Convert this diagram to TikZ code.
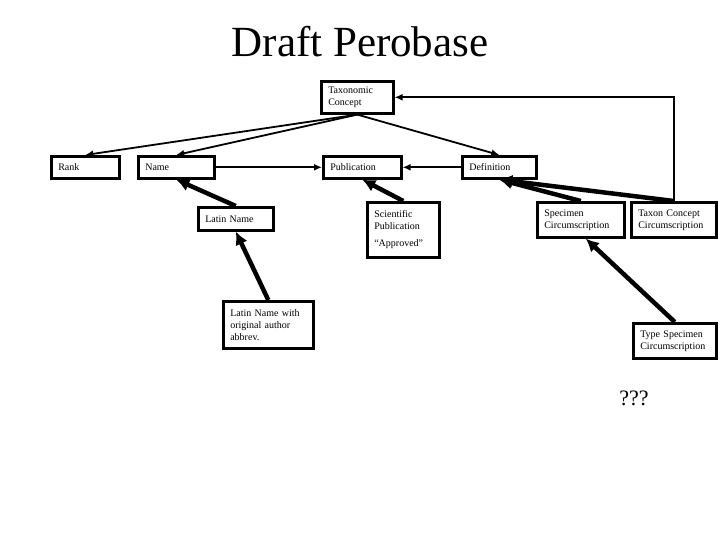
\documentclass[tikz,border=0pt]{standalone}
\usepackage{fontspec}
\setmainfont{Liberation Serif}
\usetikzlibrary{arrows.meta, positioning}

\begin{document}
\begin{tikzpicture}[x=1pt, y=-1pt,
        box/.style={rectangle, draw, line width=2.6pt, anchor=north west, inner xsep=7pt, inner ysep=2pt, align=left, font=\fontsize{10}{12}\selectfont},
        line/.style={draw, -{Latex[length=8pt, width=7pt]}, line width=1.8pt},
        heavy/.style={draw, -{Latex[length=13pt, width=13pt]}, line width=4.5pt}]

        \useasboundingbox (0,0) rectangle (720,540);

        \node [font=\fontsize{43}{46}\selectfont] (title) at (360,42) {Draft Perobase};

        % top row
        \node [box, text width=58pt, minimum height=32pt] (taxon) at (320,80) {Taxonomic\\Concept};
        \node [box, text width=54pt, minimum height=22pt] (rank) at (50,155) {Rank};
        \node [box, text width=62pt, minimum height=22pt] (name) at (137,155) {Name};
        \node [box, text width=64pt, minimum height=22pt] (pub) at (322,155) {Publication};
        \node [box, text width=60pt, minimum height=22pt] (defn) at (461,155) {Definition};

        % second row
        \node [box, text width=61pt, minimum height=23pt] (latin) at (197,206) {Latin Name};
        \node [box, text width=58pt, minimum height=55pt] (sci) at (366,201) {Scientific\\Publication\\[5pt]``Approved''};
        \node [box, text width=73pt, minimum height=35pt] (spec) at (536,201) {Specimen\\Circumscription};
        \node [box, text width=71pt, minimum height=35pt] (tcc) at (630,201) {Taxon Concept\\Circumscription};

        % lower boxes
        \node [box, text width=76pt, minimum height=47pt] (latinauth) at (222,300) {Latin Name with\\original author\\abbrev.};
        \node [box, text width=69pt, minimum height=35pt] (typespec) at (632,322) {Type Specimen\\Circumscription};

        \node [font=\fontsize{22}{24}\selectfont] (unknown) at (634,398) {???};

        \path [line] (taxon.south) -- (rank.north);
        \path [line] (taxon.south) -- (name.north);
        \path [line] (taxon.south) -- (defn.north);
        \path [line] (name.east) -- (pub.west);
        \path [line] (defn.west) -- (pub.east);
        \path [line] (tcc.north) |- (taxon.east);

        \path [heavy] (latin.north) -- (name.south);
        \path [heavy] (latinauth.north) -- (latin.south);
        \path [heavy] (sci.north) -- (pub.south);
        \path [heavy] (spec.north) -- (defn.south);
        \path [heavy] (tcc.north) -- (defn.south);
        \path [heavy] (typespec.north) -- ([xshift=5pt]spec.south);
    \end{tikzpicture}
\end{document}
